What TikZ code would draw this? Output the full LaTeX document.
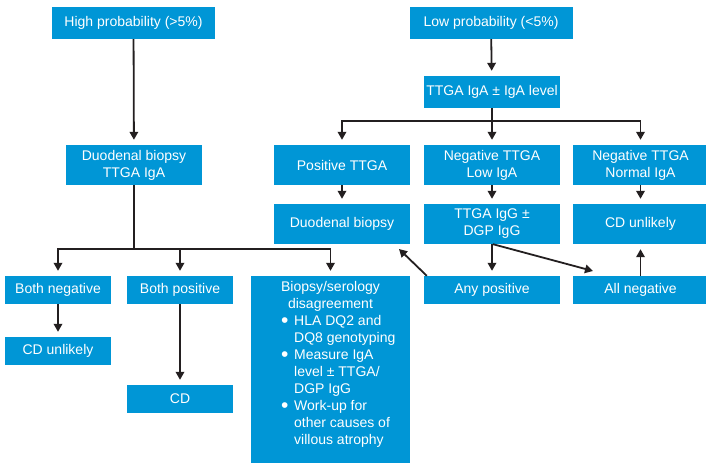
\documentclass[tikz,border=0pt]{standalone}
\usepackage{fontspec}
\setmainfont{Liberation Sans}
\usetikzlibrary{arrows.meta,calc}
\definecolor{flowblue}{RGB}{0,150,214}
\definecolor{linegray}{RGB}{35,31,32}
\newcommand{\flowbullet}{\makebox[12pt][l]{\hspace*{-1pt}{\fontsize{21}{17}\selectfont\raisebox{-2.5pt}{\textbullet}}}}
\begin{document}
\begin{tikzpicture}[x=1pt,y=-1pt,
  box/.style={fill=flowblue, text=white, inner sep=0pt, align=center,
    font=\fontsize{14}{17}\selectfont},
  txt/.style={text=white, inner sep=0pt, font=\fontsize{14}{17}\selectfont},
  arr/.style={draw=linegray, line width=1.8pt,
    -{Triangle[length=8pt,width=8.5pt]}, shorten >=5pt},
  ln/.style={draw=linegray, line width=1.8pt}]
\useasboundingbox (0,0) rectangle (706,464);

% high-probability branch
\node[box, minimum width=163pt, minimum height=32pt] (high) at (133.5,23) {High probability (>5\%)};
\node[box, minimum width=136pt, minimum height=40pt] (duo) at (134,165) {Duodenal biopsy\\TTGA IgA};
\node[box, minimum width=106pt, minimum height=28pt] (bneg) at (58,290) {Both negative};
\node[box, minimum width=106pt, minimum height=28pt] (bpos) at (180,290) {Both positive};
\node[box, minimum width=159pt, minimum height=187pt] (bsero) at (330.5,369.5) {};
\node[txt, align=center, anchor=north] (bserohead) at (330.5,281) {Biopsy/serology\\disagreement};
\node[txt, align=left, anchor=north west] (bserolist) at (282,315)
  {\flowbullet HLA DQ2 and\\
   \hspace*{12pt}DQ8 genotyping\\
   \flowbullet Measure IgA\\
   \hspace*{12pt}level ± TTGA/\\
   \hspace*{12pt}DGP IgG\\
   \flowbullet Work-up for\\
   \hspace*{12pt}other causes of\\
   \hspace*{12pt}villous atrophy};
\node[box, minimum width=106pt, minimum height=28pt] (cdu1) at (58,351) {CD unlikely};
\node[box, minimum width=106pt, minimum height=28pt] (cd) at (180,399) {CD};

% low-probability branch
\node[box, minimum width=163pt, minimum height=32pt] (low) at (491,23) {Low probability (<5\%)};
\node[box, minimum width=136pt, minimum height=32pt] (lev) at (492,92) {TTGA IgA ± IgA level};
\node[box, minimum width=136pt, minimum height=40pt] (pos) at (342,165) {Positive TTGA};
\node[box, minimum width=136pt, minimum height=40pt] (neglow) at (492,165) {Negative TTGA\\Low IgA};
\node[box, minimum width=135pt, minimum height=40pt] (negnorm) at (640.5,165) {Negative TTGA\\Normal IgA};
\node[box, minimum width=136pt, minimum height=40pt] (duo2) at (342,224) {Duodenal biopsy};
\node[box, minimum width=136pt, minimum height=40pt] (igg) at (492,224) {TTGA IgG ±\\DGP IgG};
\node[box, minimum width=135pt, minimum height=40pt] (cdu2) at (640.5,224) {CD unlikely};
\node[box, minimum width=136pt, minimum height=28pt] (anypos) at (492,290) {Any positive};
\node[box, minimum width=135pt, minimum height=28pt] (allneg) at (640.5,290) {All negative};

% junction points
\coordinate (hbar) at (134,249);
\coordinate (rbar) at (492,121);
\coordinate (negtip) at (593,271);
\coordinate (duotip) at (399,249);

% connectors, high-probability side
\draw[arr] (high) -- (duo);
\draw[ln] (duo.south) -- (hbar);
\draw[arr] (hbar) -| (bneg.north);
\draw[arr] (hbar) -| (bpos.north);
\draw[arr] (hbar) -| (bsero.north);
\draw[arr] (bneg) -- (cdu1);
\draw[arr] (bpos) -- (cd);

% connectors, low-probability side
\draw[arr] (low) -- (lev);
\draw[ln] (lev.south) -- (rbar);
\draw[arr] (rbar) -| (pos.north);
\draw[arr] (rbar) -- (neglow.north);
\draw[arr] (rbar) -| (negnorm.north);
\draw[arr] (pos) -- (duo2);
\draw[arr] (neglow) -- (igg);
\draw[arr] (negnorm) -- (cdu2);
\draw[arr] (igg.south) -- (anypos.north);
\draw[arr, shorten >=0pt] ($(igg.south)+(1,0)$) -- (negtip);
\draw[arr, shorten >=0pt] ($(anypos.north west)+(3,0)$) -- (duotip);
\draw[arr] (allneg.north) -- (cdu2.south);
\end{tikzpicture}
\end{document}
